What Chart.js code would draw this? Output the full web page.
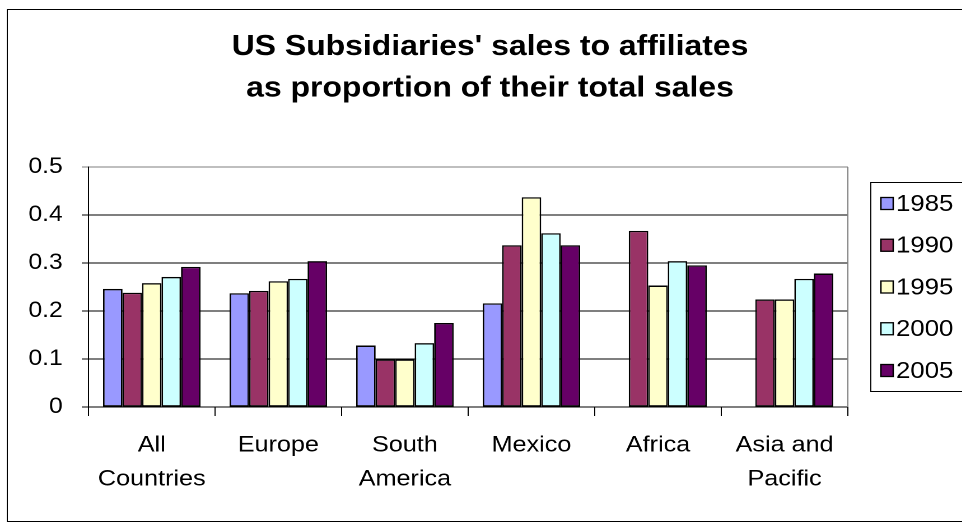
<!DOCTYPE html>
<html>
<head>
<meta charset="utf-8">
<script src="https://cdn.jsdelivr.net/npm/chart.js@4/dist/chart.umd.min.js"></script>
<style>
    html, body { margin: 0; padding: 0; background: #fff; overflow: hidden; }
    /* the reference is a horizontally stretched screenshot, so stretch the chart the same way */
    #wrap { width: 859px; height: 524px; transform: scale(1.12, 1); transform-origin: 0 0; }
</style>
</head>
<body>
<div id="wrap"><canvas id="salesChart"></canvas></div>
<script>
// Chart data
const regions = [['All', 'Countries'], 'Europe', ['South', 'America'], 'Mexico', 'Africa', ['Asia and', 'Pacific']];
const years = ['1985', '1990', '1995', '2000', '2005'];
const sales1985 = [0.246, 0.237, 0.128, 0.216, null, null];
const sales1990 = [0.238, 0.242, 0.099, 0.337, 0.367, 0.224];
const sales1995 = [0.258, 0.262, 0.099, 0.437, 0.253, 0.224];
const sales2000 = [0.271, 0.267, 0.133, 0.362, 0.304, 0.267];
const sales2005 = [0.292, 0.304, 0.175, 0.337, 0.295, 0.278];
const yTicks = [0, 0.1, 0.2, 0.3, 0.4, 0.5];
const titleLines = ["US Subsidiaries' sales to affiliates", 'as proportion of their total sales'];

const colors = ['#9999FF', '#993366', '#FFFFCC', '#CCFFFF', '#660066'];
const FONT = '"Liberation Sans", Arial, sans-serif';

// Frame, title, plot border and legend drawn around the chart
const decorations = {
    id: 'decorations',
    beforeDraw(chart) {
        const ctx = chart.ctx;
        ctx.save();
        ctx.fillStyle = '#fff';
        ctx.fillRect(0, 0, chart.width, chart.height);
        ctx.strokeStyle = '#000';
        ctx.lineWidth = 1;
        ctx.strokeRect(6.5, 9.5, chart.width + 20, 512);

        // title
        ctx.fillStyle = '#000';
        ctx.font = 'bold 28.5px ' + FONT;
        ctx.textAlign = 'center';
        ctx.textBaseline = 'alphabetic';
        ctx.fillText(titleLines[0], 437.5, 55);
        ctx.fillText(titleLines[1], 437.5, 96.5);
        ctx.restore();
    },
    beforeDatasetsDraw(chart) {
        // grey right edge of the plot area
        const a = chart.chartArea;
        const ctx = chart.ctx;
        ctx.save();
        ctx.strokeStyle = '#808080';
        ctx.lineWidth = 1;
        ctx.beginPath();
        ctx.moveTo(a.right, a.top);
        ctx.lineTo(a.right, a.bottom);
        ctx.stroke();
        ctx.restore();
    },
    afterDraw(chart) {
        const a = chart.chartArea;
        const ctx = chart.ctx;
        const mid = (a.top + a.bottom) / 2;
        const step = 41.75;
        const sets = chart.data.datasets;
        ctx.save();
        ctx.strokeStyle = '#000';
        ctx.lineWidth = 1;
        ctx.strokeRect(777.5, 182.5, 200, 209);
        ctx.font = '23px ' + FONT;
        ctx.textAlign = 'left';
        ctx.textBaseline = 'middle';
        sets.forEach((ds, i) => {
            const cy = mid + (i - (sets.length - 1) / 2) * step;
            ctx.fillStyle = ds.backgroundColor;
            ctx.fillRect(786, cy - 6.5, 12, 13);
            ctx.lineWidth = 1.3;
            ctx.strokeRect(786.5, cy - 6, 11, 12);
            ctx.fillStyle = '#000';
            ctx.fillText(ds.label, 800, cy + 1);
        });
        ctx.restore();
    }
};

const seriesValues = [sales1985, sales1990, sales1995, sales2000, sales2005];

new Chart(document.getElementById('salesChart'), {
    type: 'bar',
    data: {
        labels: regions,
        datasets: years.map((year, i) => ({
            label: year,
            data: seriesValues[i],
            backgroundColor: colors[i],
            borderColor: '#000',
            borderWidth: 1.4,
            borderSkipped: false,
            categoryPercentage: 0.77,
            barPercentage: 1
        }))
    },
    options: {
        responsive: true,
        maintainAspectRatio: false,
        devicePixelRatio: 2,
        animation: false,
        layout: {
            padding: { top: 167, right: 102, left: 0, bottom: 0 }
        },
        plugins: {
            legend: { display: false },
            title: { display: false },
            tooltip: { enabled: false }
        },
        scales: {
            x: {
                afterFit: function(scale) { scale.height = 117; },
                grid: {
                    offset: true,
                    drawOnChartArea: false,
                    tickLength: 9,
                    color: '#000'
                },
                border: { color: '#000' },
                ticks: {
                    padding: 12.5,
                    color: '#000',
                    font: { family: FONT, size: 22.5, lineHeight: 1.5 }
                }
            },
            y: {
                min: 0,
                max: 0.5,
                afterFit: function(scale) { scale.width = 79; },
                afterBuildTicks: function(scale) {
                    scale.ticks = yTicks.map(v => ({ value: v }));
                },
                grid: {
                    tickLength: 6,
                    color: ctx => (ctx.tick && ctx.tick.value === 0.5 ? '#808080' : '#000')
                },
                border: { color: '#000' },
                ticks: {
                    padding: 17,
                    color: '#000',
                    font: { family: FONT, size: 22 },
                    callback: v => String(v)
                }
            }
        }
    },
    plugins: [decorations]
});
</script>
</body>
</html>
